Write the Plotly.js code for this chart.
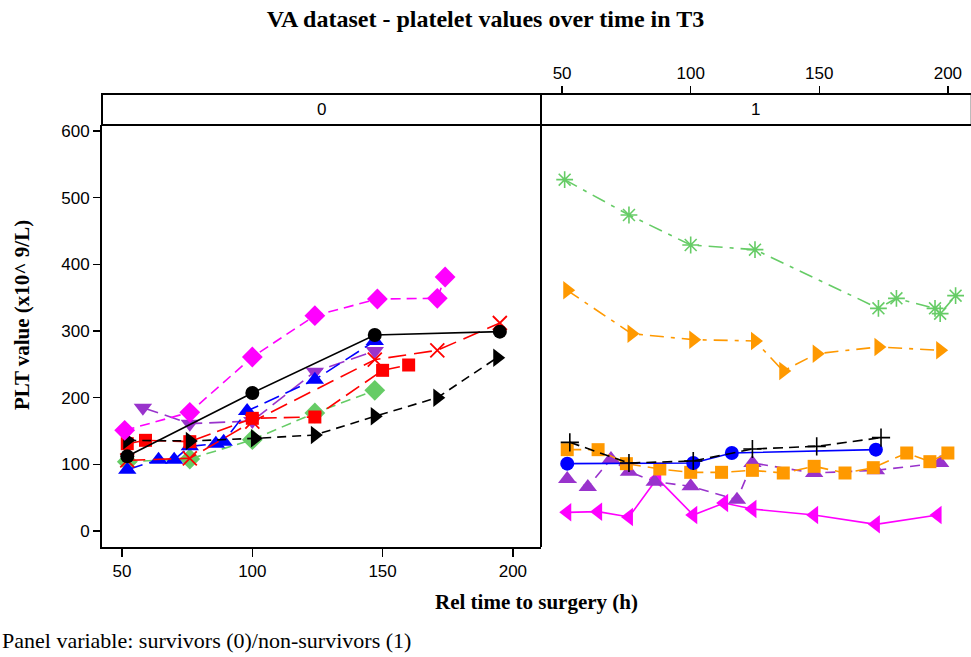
<!DOCTYPE html>
<html>
<head>
<meta charset="utf-8">
<script src="https://cdn.plot.ly/plotly-3.0.1.min.js"></script>
<style>
  html, body { margin: 0; padding: 0; background: #fff; }
  #chart { width: 971px; height: 657px; }
</style>
</head>
<body>
<div id="chart"></div>
<script>
// Panel 0 (survivors): one series per patient, hours after surgery vs PLT
const s0_magenta_x = [51, 76, 100, 124, 148, 171, 174];
const s0_magenta_y = [151, 178, 261, 323, 348, 349, 381];
const s0_blackCirc_x = [52, 100, 147, 195];
const s0_blackCirc_y = [112, 207, 294, 299];
const s0_blackTri_x = [52, 76, 101, 124, 147, 171, 194];
const s0_blackTri_y = [136, 135, 139, 144, 172, 200, 260];
const s0_redSq_x = [52, 59, 76, 100, 124, 150, 160];
const s0_redSq_y = [131, 136, 134, 169, 171, 241, 249];
const s0_redX_x = [52, 76, 100, 147, 171, 195];
const s0_redX_y = [106, 109, 164, 257, 271, 312];
const s0_blue_x = [52, 64, 70, 76, 86, 89, 98, 124, 147];
const s0_blue_y = [92, 107, 107, 127, 131, 134, 180, 227, 285];
const s0_purple_x = [58, 76, 100, 124, 147];
const s0_purple_y = [185, 161, 165, 239, 270];
const s0_green_x = [52, 76, 100, 124, 147];
const s0_green_y = [104, 108, 137, 177, 211];

// Panel 1 (non-survivors)
const s1_green_x = [51, 76, 100, 125, 173, 180, 195, 197, 203];
const s1_green_y = [527, 474, 429, 422, 334, 349, 334, 326, 353];
const s1_orangeTri_x = [52, 77, 101, 125, 136, 149, 173, 197];
const s1_orangeTri_y = [361, 296, 287, 285, 240, 266, 276, 271];
const s1_blackPlus_x = [53, 76, 101, 124, 149, 174];
const s1_blackPlus_y = [133, 102, 105, 123, 127, 140];
const s1_blueCirc_x = [52, 101, 116, 172];
const s1_blueCirc_y = [101, 102, 117, 122];
const s1_orangeSq_x = [52, 64, 75, 88, 100, 112, 124, 136, 148, 160, 171, 184, 193, 200];
const s1_orangeSq_y = [122, 122, 101, 93, 88, 88, 91, 87, 97, 87, 95, 117, 104, 117];
const s1_purple_x = [52, 60, 69, 76, 86, 100, 118, 124, 148, 172, 197];
const s1_purple_y = [78, 66, 108, 89, 74, 67, 47, 102, 87, 91, 102];
const s1_magenta_x = [52, 64, 76, 87, 101, 113, 124, 148, 172, 196];
const s1_magenta_y = [28, 29, 21, 79, 24, 42, 33, 24, 10, 24];

// Tick values
const xTicks = [50, 100, 150, 200];
const yTicks = [0, 100, 200, 300, 400, 500, 600];
const panelLabels = ['0', '1'];

const C = {
  magenta: '#FF00FF', black: '#000000', red: '#FF0000', blue: '#0000FF',
  purple: '#9933CC', green: '#66CC66', orange: '#FF9900'
};

function series(x, y, color, symbol, size, dash, panel, mline) {
  return {
    x: x, y: y, type: 'scatter', mode: 'lines+markers',
    xaxis: panel === 1 ? 'x2' : 'x', yaxis: panel === 1 ? 'y2' : 'y',
    line: { color: color, width: 1.6, dash: dash },
    marker: { color: color, symbol: symbol, size: size,
              line: { color: color, width: mline || 0 } },
    showlegend: false, hoverinfo: 'x+y'
  };
}

const traces = [
  series(s0_green_x, s0_green_y, C.green, 'diamond', 16, '10px,6px', 0),
  series(s0_purple_x, s0_purple_y, C.purple, 'triangle-down', 16, '16px,7px', 0),
  series(s0_blue_x, s0_blue_y, C.blue, 'triangle-up', 16, '16px,7px', 0),
  series(s0_redSq_x, s0_redSq_y, C.red, 'square', 13, '16px,7px', 0),
  series(s0_redX_x, s0_redX_y, C.red, 'x-thin-open', 14, '18px,8px', 0, 1.8),
  series(s0_blackTri_x, s0_blackTri_y, C.black, 'triangle-right', 16, '9px,6px', 0),
  series(s0_blackCirc_x, s0_blackCirc_y, C.black, 'circle', 14, 'solid', 0),
  series(s0_magenta_x, s0_magenta_y, C.magenta, 'diamond', 16, '10px,6px', 0),

  series(s1_green_x, s1_green_y, C.green, 'asterisk-open', 14, '14px,7px,4px,7px', 1, 1.6),
  series(s1_orangeTri_x, s1_orangeTri_y, C.orange, 'triangle-right', 16, '14px,7px,4px,7px', 1),
  series(s1_magenta_x, s1_magenta_y, C.magenta, 'triangle-left', 16, 'solid', 1),
  series(s1_purple_x, s1_purple_y, C.purple, 'triangle-up', 16, '10px,7px', 1),
  series(s1_orangeSq_x, s1_orangeSq_y, C.orange, 'square', 13, '14px,7px', 1),
  series(s1_blueCirc_x, s1_blueCirc_y, C.blue, 'circle', 14, 'solid', 1),
  series(s1_blackPlus_x, s1_blackPlus_y, C.black, 'cross-thin-open', 13, '10px,6px', 1, 1.6)
];

const splitX = 439 / 868;   // divider between the two panels
const plotTop = 422 / 453;  // bottom of the strip band

const tickFont = { family: 'Liberation Sans, Arial, sans-serif', size: 17, color: '#000' };
const serif = 'Liberation Serif, Times New Roman, serif';

const layout = {
  width: 971, height: 657,
  margin: { l: 102, r: 1, t: 94, b: 110 },
  paper_bgcolor: '#fff', plot_bgcolor: '#fff',
  title: {
    text: '<b>VA dataset - platelet values over time in T3</b>',
    font: { family: serif, size: 24, color: '#000' },
    x: 0.5, xref: 'container', xanchor: 'center', y: 0.985, yref: 'container', yanchor: 'top'
  },
  xaxis: {
    domain: [0, splitX], range: [42.3, 210.8], anchor: 'y',
    tickvals: xTicks, ticktext: xTicks.map(String),
    ticks: 'outside', ticklen: 8, tickwidth: 1.5, tickcolor: '#000',
    showline: true, linecolor: '#000', linewidth: 2,
    showgrid: false, zeroline: false, tickfont: tickFont
  },
  yaxis: {
    domain: [0, plotTop], range: [-24, 609], anchor: 'x',
    tickvals: yTicks, ticktext: yTicks.map(String),
    ticks: 'outside', ticklen: 7, tickwidth: 1.5, tickcolor: '#000',
    showline: true, linecolor: '#000', linewidth: 2,
    showgrid: false, zeroline: false, tickfont: tickFont
  },
  xaxis2: {
    domain: [splitX, 1], range: [41.8, 208.6], anchor: 'free', position: 1, side: 'top',
    tickvals: xTicks, ticktext: xTicks.map(String),
    ticks: 'outside', ticklen: 8, tickwidth: 1.5, tickcolor: '#000',
    showline: false, showgrid: false, zeroline: false, tickfont: tickFont
  },
  yaxis2: {
    domain: [0, plotTop], range: [-24, 609], anchor: 'x2',
    showticklabels: false, ticks: '', showline: false, showgrid: false, zeroline: false
  },
  shapes: [
    { type: 'rect', xref: 'paper', yref: 'paper', x0: 0, x1: 1.002, y0: plotTop, y1: 1,
      line: { color: '#000', width: 2 }, fillcolor: 'rgba(0,0,0,0)' },
    { type: 'line', xref: 'paper', yref: 'paper', x0: splitX, x1: splitX, y0: 0, y1: 1,
      line: { color: '#000', width: 2 } }
  ],
  annotations: [
    { text: panelLabels[0], xref: 'paper', yref: 'paper', x: splitX / 2, y: (plotTop + 1) / 2,
      showarrow: false, xanchor: 'center', yanchor: 'middle', font: tickFont },
    { text: panelLabels[1], xref: 'paper', yref: 'paper', x: (splitX + 1) / 2, y: (plotTop + 1) / 2,
      showarrow: false, xanchor: 'center', yanchor: 'middle', font: tickFont },
    { text: '<b>Rel time to surgery (h)</b>', xref: 'paper', yref: 'paper',
      x: 0.5, y: -55 / 453, showarrow: false, xanchor: 'center', yanchor: 'middle',
      font: { family: serif, size: 21, color: '#000' } },
    { text: '<b>PLT value (x10^ 9/L)</b>', xref: 'paper', yref: 'paper',
      x: -80 / 868, y: 232 / 453, textangle: -90, showarrow: false,
      xanchor: 'center', yanchor: 'middle',
      font: { family: serif, size: 21, color: '#000' } },
    { text: 'Panel variable: survivors (0)/non-survivors (1)', xref: 'paper', yref: 'paper',
      x: -102 / 868, y: -93 / 453, showarrow: false, xanchor: 'left', yanchor: 'middle',
      font: { family: serif, size: 22, color: '#000' } }
  ]
};

Plotly.newPlot('chart', traces, layout, { displayModeBar: false, staticPlot: true });
</script>
</body>
</html>
